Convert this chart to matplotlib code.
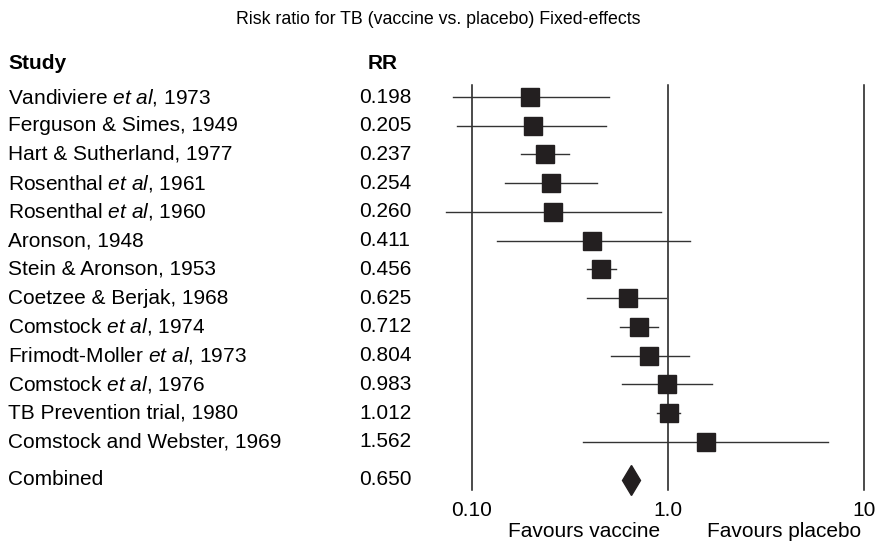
import numpy as np
import matplotlib
matplotlib.use("Agg")
import matplotlib.pyplot as plt
from matplotlib.transforms import blended_transform_factory

plt.rcParams['font.family'] = ['Liberation Sans', 'DejaVu Sans']
plt.rcParams['mathtext.fontset'] = 'custom'
plt.rcParams['mathtext.rm'] = 'Liberation Sans'
plt.rcParams['mathtext.it'] = 'Liberation Sans:italic'

# study data
studies = ["Vandiviere et al, 1973", "Ferguson & Simes, 1949", "Hart & Sutherland, 1977",
           "Rosenthal et al, 1961", "Rosenthal et al, 1960", "Aronson, 1948",
           "Stein & Aronson, 1953", "Coetzee & Berjak, 1968", "Comstock et al, 1974",
           "Frimodt-Moller et al, 1973", "Comstock et al, 1976", "TB Prevention trial, 1980",
           "Comstock and Webster, 1969"]
rr = [0.198, 0.205, 0.237, 0.254, 0.260, 0.411, 0.456, 0.625, 0.712, 0.804, 0.983, 1.012, 1.562]
ci_low = [0.080, 0.084, 0.178, 0.148, 0.074, 0.134, 0.387, 0.387, 0.569, 0.512, 0.580, 0.880, 0.368]
ci_high = [0.498, 0.481, 0.311, 0.434, 0.918, 1.29, 0.541, 0.98, 0.889, 1.285, 1.67, 1.15, 6.53]
combined_rr = 0.650
tick_vals = [0.1, 1.0, 10]
tick_labels = ["0.10", "1.0", "10"]


def fmt_name(s):
    # italicise "et al" like the journal figure
    if " et al" in s:
        a, b = s.split(" et al")
        return a + r" $\mathit{et\ al}$" + b
    return s


fig = plt.figure(figsize=(8.76, 5.45), dpi=100)
ax = fig.add_axes([0, 0, 1, 1])
ax.set_xscale('log')
ax.set_xlim(10 ** -3.408, 10 ** 1.061)
ax.set_ylim(15.583, -3.374)
ax.axis('off')

n = len(studies)
rows = np.arange(n)
comb_row = n + 0.32
fs = 15
tx = blended_transform_factory(fig.transFigure, ax.transData)
name_x = 8 / 876
val_x = 359 / 876

# reference lines at 0.1, 1 and 10
for v in tick_vals:
    ax.plot([v, v], [-0.417, 13.67], color='#1a1a1a', lw=1.1, zorder=1)

for i in rows:
    ax.plot([ci_low[i], ci_high[i]], [i, i], color='#333333', lw=1.0, zorder=2)
ax.plot(rr, rows, 's', color='#231f20', markersize=13, zorder=3)
ax.plot([combined_rr], [comb_row], 'd', color='#231f20', markersize=15, zorder=3)

ax.text(0.5, -2.71, "Risk ratio for TB (vaccine vs. placebo) Fixed-effects", transform=tx,
        ha='center', va='center', fontsize=12.8)
ax.text(name_x, -1.15, "Study", transform=tx, ha='left', va='center', fontsize=fs, fontweight='bold')
ax.text(368 / 876, -1.15, "RR", transform=tx, ha='left', va='center', fontsize=fs, fontweight='bold')

for i in rows:
    ax.text(name_x, i, fmt_name(studies[i]), transform=tx, ha='left', va='center', fontsize=fs)
    ax.text(val_x, i, f"{rr[i]:.3f}", transform=tx, ha='left', va='center', fontsize=fs)
ax.text(name_x, comb_row, "Combined", transform=tx, ha='left', va='center', fontsize=fs)
ax.text(val_x, comb_row, f"{combined_rr:.3f}", transform=tx, ha='left', va='center', fontsize=fs)

for v, lab in zip(tick_vals, tick_labels):
    ax.text(v, 14.4, lab, ha='center', va='center', fontsize=fs)
ax.text(0.91, 15.11, "Favours vaccine", ha='right', va='center', fontsize=fs)
ax.text(1.58, 15.11, "Favours placebo", ha='left', va='center', fontsize=fs)

fig.savefig("out.png", dpi=100)
